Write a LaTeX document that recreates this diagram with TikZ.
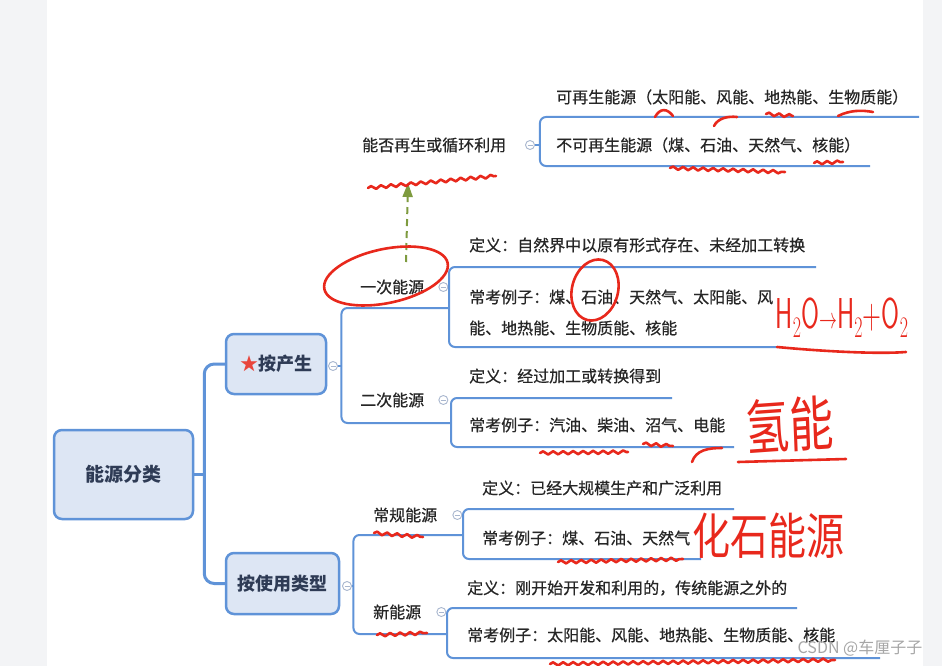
\documentclass[tikz,border=0pt]{standalone}
\usepackage{fontspec}
\newfontfamily\cjk{Noto Sans CJK SC}
\newfontfamily\cjkm[FakeBold=0.6]{Noto Sans CJK SC}
\usetikzlibrary{arrows.meta, positioning, decorations.pathmorphing}
\definecolor{MapBlue}{HTML}{5F93D8}
\definecolor{BoxFill}{HTML}{DDE6F4}
\definecolor{BoxText}{HTML}{2E3B55}
\definecolor{PageGray}{HTML}{F3F4F6}
\definecolor{FoldGray}{HTML}{A9B7CF}
\definecolor{InkRed}{HTML}{E8281C}
\definecolor{StarRed}{HTML}{E8453C}
\definecolor{ArrowGreen}{HTML}{7E9B3F}

\begin{document}
\begin{tikzpicture}[x=1pt, y=-1pt, >=Stealth,
  box/.style={draw=MapBlue, line width=2.5pt, fill=BoxFill, rounded corners=8pt,
              font=\cjk\bfseries\fontsize{18}{20}\selectfont, text=BoxText},
  topic/.style={anchor=west, inner sep=0pt, align=left, text=black!85,
                font=\cjkm\fontsize{16}{31}\selectfont},
  fold/.style={circle, draw=FoldGray, line width=0.9pt, fill=white,
               minimum size=9pt, inner sep=0pt,
               path picture={\draw[FoldGray, line width=0.8pt]
                 ([xshift=-2.5pt]path picture bounding box.center) --
                 ([xshift=2.5pt]path picture bounding box.center);}},
  branch/.style={MapBlue, line width=2pt, rounded corners=6pt},
  trunk/.style={MapBlue, line width=3pt, rounded corners=10pt},
  ink/.style={InkRed, line width=2.6pt, line cap=round, line join=round},
  wave/.style={ink, decorate, decoration={snake, amplitude=1.6pt, segment length=10pt}},
  hand/.style={text=InkRed, inner sep=0pt, font=\cjk\fontsize{40}{40}\selectfont}]

  % page
  \fill[PageGray] (0,0) rectangle (942,666);
  \fill[white] (47,0) rectangle (923,666);
  \useasboundingbox (0,0) rectangle (942,666);

  % main boxes
  \node[box, minimum width=139pt, minimum height=89pt,
        font=\cjk\bfseries\fontsize{19}{21}\selectfont] (root) at (123.5,474.5) {能源分类};
  \node[box, minimum width=100pt, minimum height=60pt] (chan) at (276,364)
    {\textcolor{StarRed}{★}按产生};
  \node[box, minimum width=113pt, minimum height=61pt] (shiyong) at (282.5,583.5) {按使用类型};
  \node[fold] (f-chan) at (333,366) {};
  \node[fold] (f-shiyong) at (347,586) {};

  \draw[trunk] (root.east) -- ++(10,0);
  \draw[trunk] (chan.west) -| ([xshift=10pt]root.east) |- (shiyong.west);

  % renewable or not
  \node[topic] (zaisheng) at (362,145) {能否再生或循环利用};
  \node[fold] (f-zaisheng) at (530,145) {};
  \node[topic] (kzs) at (556,97) {可再生能源（太阳能、风能、地热能、生物质能）};
  \node[topic] (bkzs) at (556,145) {不可再生能源（煤、石油、天然气、核能）};
  \coordinate (br-zaisheng) at ([xshift=5pt]f-zaisheng.east);
  \coordinate (kzs-end) at (919,117);
  \coordinate (bkzs-end) at (870,166);
  \draw[branch] (f-zaisheng) -- (br-zaisheng);
  \draw[branch] (kzs-end) -- (kzs-end -| br-zaisheng) -- (bkzs-end -| br-zaisheng) -- (bkzs-end);

  % by production
  \node[topic] (yici) at (360,287) {一次能源};
  \node[topic] (erci) at (360,400) {二次能源};
  \node[fold, right=14pt of yici] (f-yici) {};
  \node[fold, right=14pt of erci] (f-erci) {};
  \coordinate (br-chan) at ([xshift=3.5pt]f-chan.east);
  \coordinate (yici-end) at (449,308);
  \coordinate (erci-end) at (451,423);
  \draw[branch] (f-chan) -- (br-chan);
  \draw[branch] (yici-end) -- (yici-end -| br-chan) -- (erci-end -| br-chan) -- (erci-end);

  \node[topic] (dy1) at (469,245) {定义：自然界中以原有形式存在、未经加工转换};
  \node[topic] (lz1) at (469,312.5)
    {常考例子：煤、石油、天然气、太阳能、风\\能、地热能、生物质能、核能};
  \coordinate (dy1-end) at (816,267);
  \coordinate (lz1-end) at (777,347);
  \draw[branch] (dy1-end) -- (dy1-end -| yici-end) -- (lz1-end -| yici-end) -- (lz1-end);

  \node[topic] (dy2) at (469,376) {定义：经过加工或转换得到};
  \node[topic] (lz2) at (469,425) {常考例子：汽油、柴油、沼气、电能};
  \coordinate (dy2-end) at (672,398);
  \coordinate (lz2-end) at (734,447);
  \draw[branch] (dy2-end) -- (dy2-end -| erci-end) -- (lz2-end -| erci-end) -- (lz2-end);

  % by use
  \node[topic] (changgui) at (373,515) {常规能源};
  \node[topic] (xin) at (373,612) {新能源};
  \node[fold, right=15pt of changgui] (f-changgui) {};
  \node[fold, right=15pt of xin] (f-xin) {};
  \coordinate (br-shiyong) at ([xshift=1.5pt]f-shiyong.east);
  \coordinate (changgui-end) at (463,535);
  \coordinate (xin-end) at (447,634);
  \draw[branch] (f-shiyong) -- (br-shiyong);
  \draw[branch] (changgui-end) -- (changgui-end -| br-shiyong) -- (xin-end -| br-shiyong) -- (xin-end);

  \node[topic] (dy3) at (482,488) {定义：已经大规模生产和广泛利用};
  \node[topic] (lz3) at (482,538) {常考例子：煤、石油、天然气};
  \coordinate (dy3-end) at (734,509);
  \coordinate (lz3-end) at (701,559);
  \draw[branch] (dy3-end) -- (dy3-end -| changgui-end) -- (lz3-end -| changgui-end) -- (lz3-end);

  \node[topic] (dy4) at (467,588) {定义：刚开始开发和利用的，传统能源之外的};
  \node[topic] (lz4) at (467,635) {常考例子：太阳能、风能、地热能、生物质能、核能};
  \coordinate (dy4-end) at (797,608);
  \coordinate (lz4-end) at (880,658);
  \draw[branch] (dy4-end) -- (dy4-end -| xin-end) -- (lz4-end -| xin-end) -- (lz4-end);

  % green arrow
  \coordinate (arrow-tail) at (406,262);
  \coordinate (arrow-head) at (408,183);
  \draw[ArrowGreen, line width=2pt, dash pattern=on 7pt off 5pt,
        -{Triangle[width=10pt, length=14pt]}] (arrow-tail) -- (arrow-head);

  % red marks
  \draw[ink, rotate around={12:(386,276)}] (386,276) ellipse [x radius=63, y radius=27];
  \draw[ink, rotate around={-15:(595,290)}] (595,290) ellipse [x radius=23, y radius=31];
  \draw[wave] (368,188) -- (496,176);
  \draw[ink] (655,117) .. controls (660,108) and (667,108) .. (673,116);
  \draw[ink] (714,126) .. controls (718,118) and (728,116) .. (737,117);
  \draw[wave] (766,114) -- (793,116);
  \draw[ink] (838,116) .. controls (850,110) and (862,110) .. (873,112);
  \draw[wave] (670,168) -- (785,172);
  \draw[wave] (814,163) -- (843,162);
  \draw[wave] (540,453) -- (628,452);
  \draw[wave] (643,444) -- (673,446);
  \draw[ink] (692,462) .. controls (696,450) and (708,448) .. (722,448);
  \draw[wave] (374,533) -- (423,537);
  \draw[wave] (377,635) -- (427,633);
  \draw[wave] (558,562) -- (683,559);
  \draw[wave] (550,664) -- (835,660);
  \draw[ink] (777,347) .. controls (830,352) and (880,354) .. (906,352);
  \draw[ink] (738,462) -- (846,459);

  \node[hand, font=\sffamily\fontsize{36}{36}\selectfont, xscale=0.72, yscale=1.2] (h2o) at (842,318)
    {H$_2$O$\to$H$_2$+O$_2$};
  \node[hand, font=\cjk\fontsize{44}{44}\selectfont, yscale=1.35, rotate=3] (qingneng) at (790,425) {氢能};
  \node[hand, font=\cjk\fontsize{38}{38}\selectfont, yscale=1.3] (huashi) at (768,536) {化石能源};

  % watermark
  \node[font=\cjk\fontsize{16}{16}\selectfont, text=gray!70] (mark) at (860,648) {CSDN @车厘子子};
\end{tikzpicture}
\end{document}
